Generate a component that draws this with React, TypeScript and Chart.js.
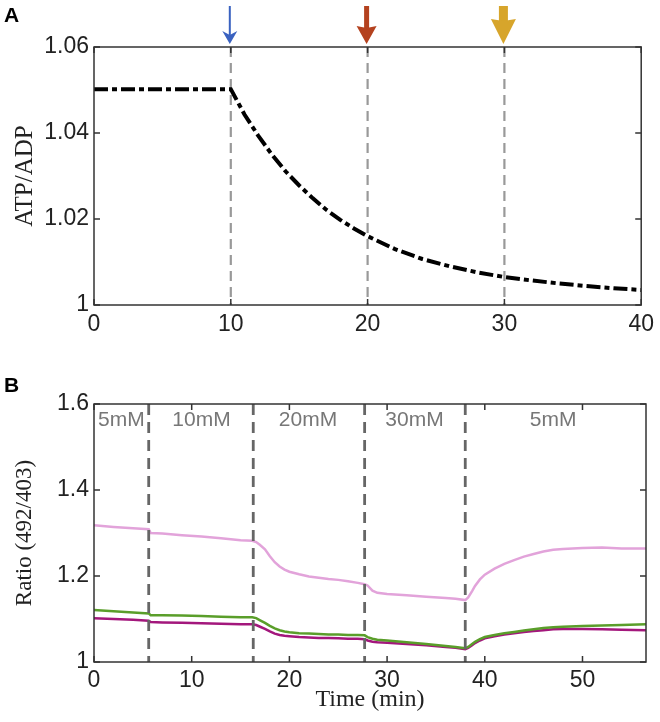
import React, { useEffect, useRef } from 'react';
import { Chart, registerables } from 'chart.js';
Chart.register(...registerables);

// ---------- Panel A data ----------
const timeA = [0, 10, 11, 12, 13, 14, 15, 16, 17, 18, 19, 20, 22, 24, 26, 28, 30, 32, 34, 36, 38, 40];
const atpAdp = [1.0502, 1.0502, 1.0443, 1.0394, 1.035, 1.0311, 1.0278, 1.0248, 1.0221, 1.0198, 1.0178, 1.016, 1.013, 1.0107, 1.009, 1.0076, 1.0065, 1.0057, 1.005, 1.0044, 1.0039, 1.0035];
const xTicksA = [0, 10, 20, 30, 40];
const yTicksA = [1, 1.02, 1.04, 1.06];
const eventTimesA = [10, 20, 30];

// ---------- Panel B data ----------
const timeB = [
  0, 2, 4, 5.6, 5.8, 7, 9, 11, 13, 15,
  16.2, 16.6, 17, 17.5, 18, 18.5, 19, 19.5, 20, 21,
  22, 23, 24, 25, 26, 27, 27.7, 28, 28.5, 29,
  30, 32, 34, 36, 37, 38, 38.3, 38.7, 39, 39.5,
  40, 41, 42, 43, 44, 45, 46, 47, 48, 50,
  52, 54, 56.5,
];
const ratioPink = [
  1.318, 1.314, 1.311, 1.309, 1.3, 1.299, 1.295, 1.292, 1.288, 1.283,
  1.282, 1.279, 1.272, 1.262, 1.246, 1.232, 1.222, 1.215, 1.21, 1.204,
  1.199, 1.196, 1.193, 1.191, 1.188, 1.184, 1.181, 1.178, 1.166, 1.161,
  1.158, 1.155, 1.152, 1.149, 1.147, 1.144, 1.15, 1.165, 1.177, 1.192,
  1.203, 1.217, 1.228, 1.237, 1.245, 1.251, 1.257, 1.261, 1.263, 1.265,
  1.266, 1.264, 1.264,
];
const ratioGreen = [
  1.121, 1.118, 1.115, 1.113, 1.109, 1.109, 1.108, 1.107, 1.105, 1.104,
  1.104, 1.102, 1.097, 1.091, 1.084, 1.078, 1.074, 1.071, 1.069, 1.067,
  1.066, 1.065, 1.064, 1.064, 1.063, 1.063, 1.062, 1.058, 1.054, 1.052,
  1.05, 1.046, 1.042, 1.037, 1.035, 1.032, 1.035, 1.042, 1.047, 1.053,
  1.058, 1.063, 1.067, 1.07, 1.073, 1.076, 1.079, 1.081, 1.082, 1.084,
  1.085, 1.086, 1.088,
];
const ratioMagenta = [
  1.102, 1.1, 1.098, 1.096, 1.093, 1.092, 1.091, 1.09, 1.089, 1.088,
  1.088, 1.086, 1.082, 1.077, 1.071, 1.066, 1.063, 1.061, 1.06, 1.058,
  1.057, 1.056, 1.056, 1.055, 1.054, 1.054, 1.053, 1.05, 1.047, 1.046,
  1.045, 1.042, 1.039, 1.035, 1.033, 1.03, 1.033, 1.039, 1.044, 1.05,
  1.055, 1.06, 1.064, 1.067, 1.07, 1.072, 1.074, 1.076, 1.077, 1.077,
  1.076, 1.075, 1.074,
];
const switchTimesB = [5.6, 16.3, 27.7, 38.0];
const concLabels = ['5mM', '10mM', '20mM', '30mM', '5mM'];
const concLabelTimes = [2.8, 11.0, 21.9, 32.8, 47.0];
const xTicksB = [0, 10, 20, 30, 40, 50];
const yTicksB = [1, 1.2, 1.4, 1.6];

// ---------- styles ----------
const SANS = "'Liberation Sans', Arial, Helvetica, sans-serif";
const SERIF = "'Liberation Serif', 'Times New Roman', serif";
const TICK_FONT = { family: SANS, size: 23 };
const arrowColors = ['#3a62c0', '#b4421f', '#d7a52b'];
const arrowShaft = [2, 5, 9];
const arrowHeadHalf = [7.5, 10, 12.5];
const arrowHeadLen = [13, 18, 25];

function framePlugin(letter: string, letterY: number) {
  return {
    id: 'frame' + letter,
    afterDraw(chart: any) {
      const { ctx, chartArea, scales } = chart;
      const { left, right, top, bottom } = chartArea;
      const tl = 6;
      ctx.save();
      ctx.strokeStyle = '#333';
      ctx.lineWidth = 1.5;
      ctx.beginPath();
      scales.x.ticks.forEach((t: any) => {
        const px = scales.x.getPixelForValue(t.value);
        ctx.moveTo(px, bottom); ctx.lineTo(px, bottom - tl);
        ctx.moveTo(px, top); ctx.lineTo(px, top + tl);
      });
      scales.y.ticks.forEach((t: any) => {
        const py = scales.y.getPixelForValue(t.value);
        ctx.moveTo(left, py); ctx.lineTo(left + tl, py);
        ctx.moveTo(right, py); ctx.lineTo(right - tl, py);
      });
      ctx.stroke();
      ctx.strokeRect(left, top, right - left, bottom - top);
      ctx.fillStyle = '#000';
      ctx.font = `bold 21px ${SANS}`;
      ctx.textBaseline = 'alphabetic';
      ctx.textAlign = 'left';
      ctx.fillText(letter, 4, letterY);
      ctx.restore();
    },
  };
}

function vlinePlugin(id: string, times: number[], color: string, width: number, dash: number[], after: boolean) {
  const draw = (chart: any) => {
    const { ctx, chartArea, scales } = chart;
    ctx.save();
    ctx.strokeStyle = color;
    ctx.lineWidth = width;
    ctx.setLineDash(dash);
    times.forEach((t) => {
      const px = scales.x.getPixelForValue(t);
      ctx.beginPath();
      ctx.moveTo(px, chartArea.top);
      ctx.lineTo(px, chartArea.bottom);
      ctx.stroke();
    });
    ctx.restore();
  };
  return after ? { id, afterDatasetsDraw: draw } : { id, beforeDatasetsDraw: draw };
}

const arrowPlugin = {
  id: 'arrows',
  afterDraw(chart: any) {
    const { ctx, chartArea, scales } = chart;
    const tipY = chartArea.top - 3;
    const startY = 6;
    ctx.save();
    eventTimesA.forEach((t, i) => {
      const px = scales.x.getPixelForValue(t) - 1;
      const sw = arrowShaft[i];
      const hh = arrowHeadHalf[i];
      const hl = arrowHeadLen[i];
      const notch = i === 0 ? 4 : 2;
      ctx.fillStyle = arrowColors[i];
      ctx.fillRect(px - sw / 2, startY, sw, tipY - hl - startY + notch + 1);
      ctx.beginPath();
      ctx.moveTo(px, tipY);
      ctx.lineTo(px + hh, tipY - hl);
      ctx.lineTo(px, tipY - hl + notch);
      ctx.lineTo(px - hh, tipY - hl);
      ctx.closePath();
      ctx.fill();
    });
    ctx.restore();
  },
};

const concLabelPlugin = {
  id: 'concLabels',
  afterDatasetsDraw(chart: any) {
    const { ctx, chartArea, scales } = chart;
    ctx.save();
    ctx.fillStyle = '#777';
    ctx.font = `21px ${SANS}`;
    ctx.textAlign = 'center';
    ctx.textBaseline = 'middle';
    concLabels.forEach((s, i) => {
      ctx.fillText(s, scales.x.getPixelForValue(concLabelTimes[i]), chartArea.top + 16);
    });
    ctx.restore();
  },
};

const noGrid = { display: false, drawTicks: false, tickLength: 0 };

export default function App() {
  const refA = useRef<HTMLCanvasElement>(null);
  const refB = useRef<HTMLCanvasElement>(null);

  useEffect(() => {
    const chartA = new Chart(refA.current!, {
      type: 'line',
      data: {
        datasets: [
          {
            data: timeA.map((x, i) => ({ x, y: atpAdp[i] })),
            borderColor: '#000',
            borderWidth: 4,
            borderDash: [14, 4, 5, 4],
            borderCapStyle: 'butt',
            pointRadius: 0,
            tension: 0,
          },
        ],
      },
      options: {
        animation: false,
        responsive: false,
        events: [],
        layout: { padding: { left: 0, right: 14, top: 47, bottom: 0 } },
        plugins: { legend: { display: false }, tooltip: { enabled: false } },
        scales: {
          x: {
            type: 'linear',
            min: 0,
            max: 40,
            grid: noGrid,
            border: { display: false },
            afterBuildTicks: (ax: any) => { ax.ticks = xTicksA.map((v) => ({ value: v })); },
            afterFit: (ax: any) => { ax.height = 55; },
            ticks: { font: TICK_FONT, color: '#222', padding: 6, maxRotation: 0, callback: (v: any) => String(v) },
          },
          y: {
            type: 'linear',
            min: 1,
            max: 1.06,
            grid: noGrid,
            border: { display: false },
            afterBuildTicks: (ax: any) => { ax.ticks = yTicksA.map((v) => ({ value: v })); },
            afterFit: (ax: any) => { ax.width = 94; },
            ticks: { font: TICK_FONT, color: '#222', padding: 5, callback: (v: any) => (v === 1 ? '1' : Number(v).toFixed(2)) },
            title: { display: true, text: 'ATP/ADP', font: { family: SERIF, size: 25 }, color: '#222', padding: { top: 10, bottom: 0 } },
          },
        },
      },
      plugins: [
        vlinePlugin('vA', eventTimesA, '#999', 2.2, [10, 6], false),
        framePlugin('A', 22),
        arrowPlugin,
      ],
    } as any);

    const chartB = new Chart(refB.current!, {
      type: 'line',
      data: {
        datasets: [
          { data: timeB.map((x, i) => ({ x, y: ratioGreen[i] })), borderColor: '#5a9e2a', borderWidth: 2.5, pointRadius: 0, tension: 0 },
          { data: timeB.map((x, i) => ({ x, y: ratioMagenta[i] })), borderColor: '#a3177c', borderWidth: 2.5, pointRadius: 0, tension: 0 },
          { data: timeB.map((x, i) => ({ x, y: ratioPink[i] })), borderColor: '#e2a3da', borderWidth: 2.5, pointRadius: 0, tension: 0 },
        ],
      },
      options: {
        animation: false,
        responsive: false,
        events: [],
        layout: { padding: { left: 0, right: 14, top: 44, bottom: 0 } },
        plugins: { legend: { display: false }, tooltip: { enabled: false } },
        scales: {
          x: {
            type: 'linear',
            min: 0,
            max: 56.5,
            grid: noGrid,
            border: { display: false },
            afterBuildTicks: (ax: any) => { ax.ticks = xTicksB.map((v) => ({ value: v })); },
            afterFit: (ax: any) => { ax.height = 60; },
            ticks: { font: TICK_FONT, color: '#222', padding: 5, maxRotation: 0, callback: (v: any) => String(v) },
            title: { display: true, text: 'Time (min)', font: { family: SERIF, size: 24 }, color: '#222', padding: { top: 0, bottom: 8 } },
          },
          y: {
            type: 'linear',
            min: 1,
            max: 1.6,
            grid: noGrid,
            border: { display: false },
            afterBuildTicks: (ax: any) => { ax.ticks = yTicksB.map((v) => ({ value: v })); },
            afterFit: (ax: any) => { ax.width = 94; },
            ticks: { font: TICK_FONT, color: '#222', padding: 5, callback: (v: any) => (v === 1 ? '1' : Number(v).toFixed(1)) },
            title: { display: true, text: 'Ratio (492/403)', font: { family: SERIF, size: 23 }, color: '#222', padding: { top: 11, bottom: 0 } },
          },
        },
      },
      plugins: [
        vlinePlugin('vB', switchTimesB, '#666', 2.8, [11, 7], true),
        concLabelPlugin,
        framePlugin('B', 32),
      ],
    } as any);

    return () => {
      chartA.destroy();
      chartB.destroy();
    };
  }, []);

  return (
    <div style={{ position: 'absolute', left: 0, top: 0, width: 660, height: 722, background: '#fff' }}>
      <canvas ref={refA} width={660} height={360} style={{ position: 'absolute', left: 0, top: 0, width: 660, height: 360 }} />
      <canvas ref={refB} width={660} height={362} style={{ position: 'absolute', left: 0, top: 360, width: 660, height: 362 }} />
    </div>
  );
}
